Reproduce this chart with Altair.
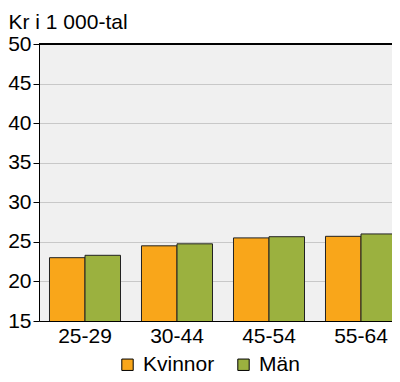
import altair as alt
import pandas as pd

ages = ["25-29", "30-44", "45-54", "55-64"]
kvinnor = [23.0, 24.5, 25.5, 25.7]
man = [23.3, 24.75, 25.65, 26.0]
series = ["Kvinnor", "Män"]
colors = ["#F9A61A", "#9BB13F"]
yticks = [15, 20, 25, 30, 35, 40, 45, 50]

rows = []
for a, k, m in zip(ages, kvinnor, man):
    rows.append({"age": a, "kon": series[0], "value": k})
    rows.append({"age": a, "kon": series[1], "value": m})
df = pd.DataFrame(rows)

FONT = "Liberation Sans"
FS = 21

bars = alt.Chart(df).mark_bar(stroke="#222222", strokeWidth=1, clip=True).encode(
    x=alt.X("age:N", sort=ages, title=None,
            scale=alt.Scale(paddingInner=0.228, paddingOuter=0.114, range=[0, 368]),
            axis=alt.Axis(labelAngle=0)),
    xOffset=alt.XOffset("kon:N", sort=series, scale=alt.Scale(paddingInner=0, paddingOuter=0)),
    y=alt.Y("value:Q", title="Kr i 1 000-tal",
            scale=alt.Scale(domain=[15, 50], nice=False, zero=False),
            axis=alt.Axis(values=yticks, tickCount=8, labelOverlap=False)),
    color=alt.Color("kon:N", sort=series, scale=alt.Scale(domain=series, range=colors),
                    legend=alt.Legend(title=None, orient="none", direction="horizontal",
                                      legendX=78, legendY=310, symbolType="square",
                                      symbolSize=130, symbolStrokeColor="black",
                                      symbolStrokeWidth=1, labelFontSize=FS, labelFont=FONT,
                                      labelColor="black", columnPadding=18, labelOffset=5)),
)

topline = alt.Chart(df).mark_rule(color="black", strokeWidth=1).encode(
    y=alt.YDatum(50, axis=None)
)

chart = alt.layer(bars, topline).resolve_axis(y="independent").properties(
    width=353, height=277,
    autosize=alt.AutoSizeParams(type="none"),
    padding={"left": 31, "top": 36, "right": 0, "bottom": 53},
).configure_view(
    fill="#f0f0f0", stroke=None
).configure_axisX(
    labelFontSize=FS, labelFont=FONT, labelColor="black", tickSize=0, labelPadding=4,
    domainColor="black", grid=False
).configure_axisY(
    labelFontSize=21, labelFont=FONT, labelColor="black", tickSize=6, tickColor="black",
    labelPadding=2, labelOverlap=False, labelBound=False, domainColor="black",
    gridColor="#c8c8c8", titleAngle=0, titleAlign="left", titleBaseline="alphabetic",
    titleX=-31, titleY=-16, titleFont=FONT, titleFontSize=FS, titleFontWeight="normal",
    titleColor="black"
)

chart.save("out.html", embed_options={"renderer": "svg", "actions": False})
